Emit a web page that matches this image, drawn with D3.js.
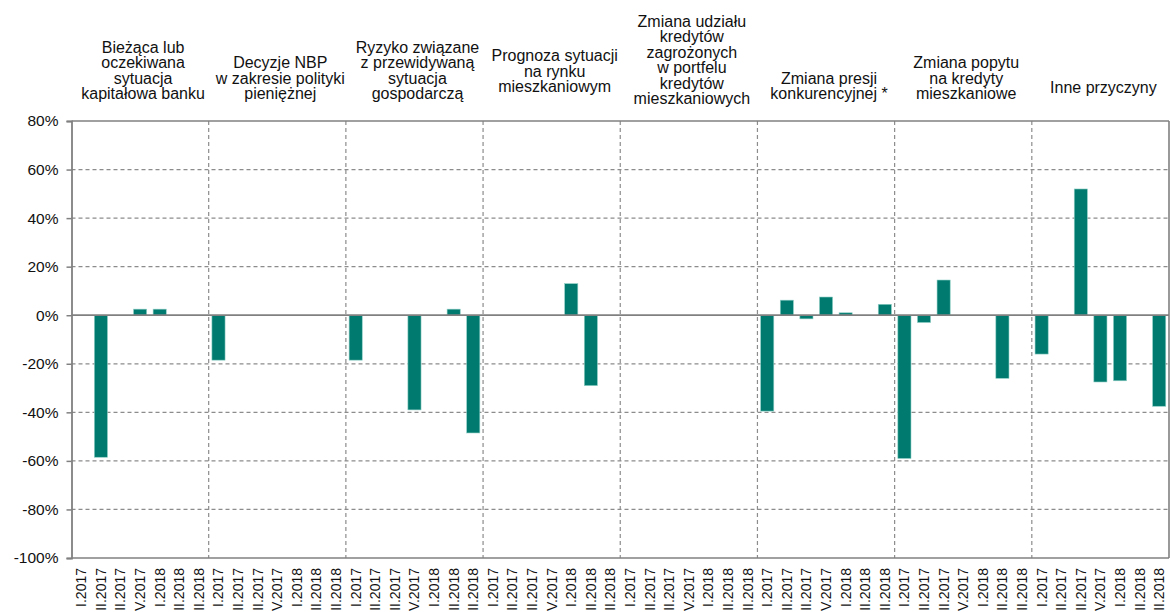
<!DOCTYPE html>
<html>
<head>
<meta charset="utf-8">
<script src="https://cdn.jsdelivr.net/npm/d3@7"></script>
<style>
  html, body { margin: 0; padding: 0; background: #fff; }
  svg { display: block; font-family: "Liberation Sans", Arial, sans-serif; }
</style>
</head>
<body>
<svg id="chart" width="1170" height="612"></svg>
<script>
// ---- data ----
const groupHeaders = [
  ["Bieżąca lub", "oczekiwana", "sytuacja", "kapitałowa banku"],
  ["Decyzje NBP", "w zakresie polityki", "pieniężnej"],
  ["Ryzyko związane", "z przewidywaną", "sytuacja", "gospodarczą"],
  ["Prognoza sytuacji", "na rynku", "mieszkaniowym"],
  ["Zmiana udziału", "kredytów", "zagrożonych", "w portfelu", "kredytów", "mieszkaniowych"],
  ["Zmiana presji", "konkurencyjnej *"],
  ["Zmiana popytu", "na kredyty", "mieszkaniowe"],
  ["Inne przyczyny"]
];
const periods = ["I.2017", "II.2017", "III.2017", "IV.2017", "I.2018", "II.2018", "III.2018"];
const valuesG1 = [null, -58.5, null, 2.5, 2.5, null, null];
const valuesG2 = [-18.5, null, null, null, null, null, null];
const valuesG3 = [-18.5, null, null, -39, null, 2.5, -48.5];
const valuesG4 = [null, null, null, null, 13, -29, null];
const valuesG5 = [null, null, null, null, null, null, null];
const valuesG6 = [-39.5, 6.2, -1.5, 7.5, 1, null, 4.5];
const valuesG7 = [-59, -3, 14.5, null, null, -26, null];
const valuesG8 = [-16, null, 52, -27.5, -27, null, -37.5];
const yTicks = [80, 60, 40, 20, 0, -20, -40, -60, -80, -100];

const groupValues = [valuesG1, valuesG2, valuesG3, valuesG4, valuesG5, valuesG6, valuesG7, valuesG8];

// ---- layout ----
const plotLeft = 71.5, plotRight = 1169, plotTop = 121, plotBottom = 558;
const headerBottomBaseline = [99, 99, 99, 92, 104, 99, 99, 93];
const headerLineGap = 15.5;
const barColor = "#007A6E";
const gridColor = "#8c8c8c";
const axisColor = "#808080";

const rows = [];
groupValues.forEach((vals, g) => {
  vals.forEach((v, p) => rows.push({ key: g + "_" + p, group: g, period: periods[p], value: v }));
});

const svg = d3.select("#chart");

const x = d3.scaleBand().domain(rows.map(d => d.key)).range([plotLeft, plotRight]).paddingInner(0.33).paddingOuter(0.165);
const xGroup = d3.scaleBand().domain(d3.range(groupHeaders.length)).range([plotLeft, plotRight]);
const y = d3.scaleLinear().domain([-100, 80]).range([plotBottom, plotTop]);

// horizontal dashed gridlines
svg.append("g").selectAll("line")
  .data(yTicks.filter(t => t !== 80 && t !== 0 && t !== -100))
  .join("line")
  .attr("x1", plotLeft).attr("x2", plotRight)
  .attr("y1", d => y(d)).attr("y2", d => y(d))
  .attr("stroke", gridColor).attr("stroke-width", 1.2).attr("stroke-dasharray", "4,3");

// vertical dashed group separators
svg.append("g").selectAll("line")
  .data(d3.range(1, groupHeaders.length))
  .join("line")
  .attr("x1", d => xGroup(d)).attr("x2", d => xGroup(d))
  .attr("y1", plotTop).attr("y2", plotBottom)
  .attr("stroke", gridColor).attr("stroke-width", 1.2).attr("stroke-dasharray", "4,3");

// bars
svg.append("g").selectAll("rect")
  .data(rows.filter(d => d.value !== null))
  .join("rect")
  .attr("x", d => x(d.key))
  .attr("width", x.bandwidth())
  .attr("y", d => Math.min(y(d.value), y(0)))
  .attr("height", d => Math.abs(y(d.value) - y(0)))
  .attr("fill", barColor)
  .attr("stroke", "#8fcfc6").attr("stroke-width", 0.6);

// frame lines: top (80%), bottom (-100%), right border, zero line
svg.append("line").attr("x1", plotLeft).attr("x2", plotRight).attr("y1", y(80)).attr("y2", y(80))
  .attr("stroke", axisColor).attr("stroke-width", 1.6);
svg.append("line").attr("x1", plotLeft).attr("x2", plotRight).attr("y1", y(-100)).attr("y2", y(-100))
  .attr("stroke", axisColor).attr("stroke-width", 1.6);
svg.append("line").attr("x1", plotRight).attr("x2", plotRight).attr("y1", y(80)).attr("y2", y(-100))
  .attr("stroke", axisColor).attr("stroke-width", 1.6);
svg.append("line").attr("x1", plotLeft).attr("x2", plotRight).attr("y1", y(0)).attr("y2", y(0))
  .attr("stroke", axisColor).attr("stroke-width", 1.8);

// y axis
const yAxis = d3.axisLeft(y).tickValues(yTicks).tickSize(5).tickPadding(8).tickFormat(d => d + "%");
const yg = svg.append("g").attr("transform", `translate(${plotLeft},0)`).call(yAxis);
yg.select(".domain").attr("stroke", axisColor).attr("stroke-width", 1.8);
yg.selectAll(".tick line").attr("stroke", axisColor).attr("stroke-width", 1.5);
yg.selectAll(".tick text").attr("fill", "#111").style("font-size", "15.5px")
  .style("font-family", "'Liberation Sans', Arial, sans-serif");

// x labels (rotated)
svg.append("g").selectAll("text")
  .data(rows)
  .join("text")
  .attr("transform", d => `translate(${x(d.key) + x.bandwidth() / 2},568) rotate(-90)`)
  .attr("text-anchor", "end")
  .attr("dy", "0.35em")
  .attr("fill", "#111")
  .style("font-size", "14px")
  .text(d => d.period);

// group headers
const hg = svg.append("g");
groupHeaders.forEach((lines, g) => {
  const cx = xGroup(g) + xGroup.bandwidth() / 2 + 3;
  const n = lines.length;
  lines.forEach((line, i) => {
    hg.append("text")
      .attr("x", cx)
      .attr("y", headerBottomBaseline[g] - (n - 1 - i) * headerLineGap)
      .attr("text-anchor", "middle")
      .attr("fill", "#111")
      .style("font-size", "16px")
      .text(line);
  });
});
</script>
</body>
</html>
